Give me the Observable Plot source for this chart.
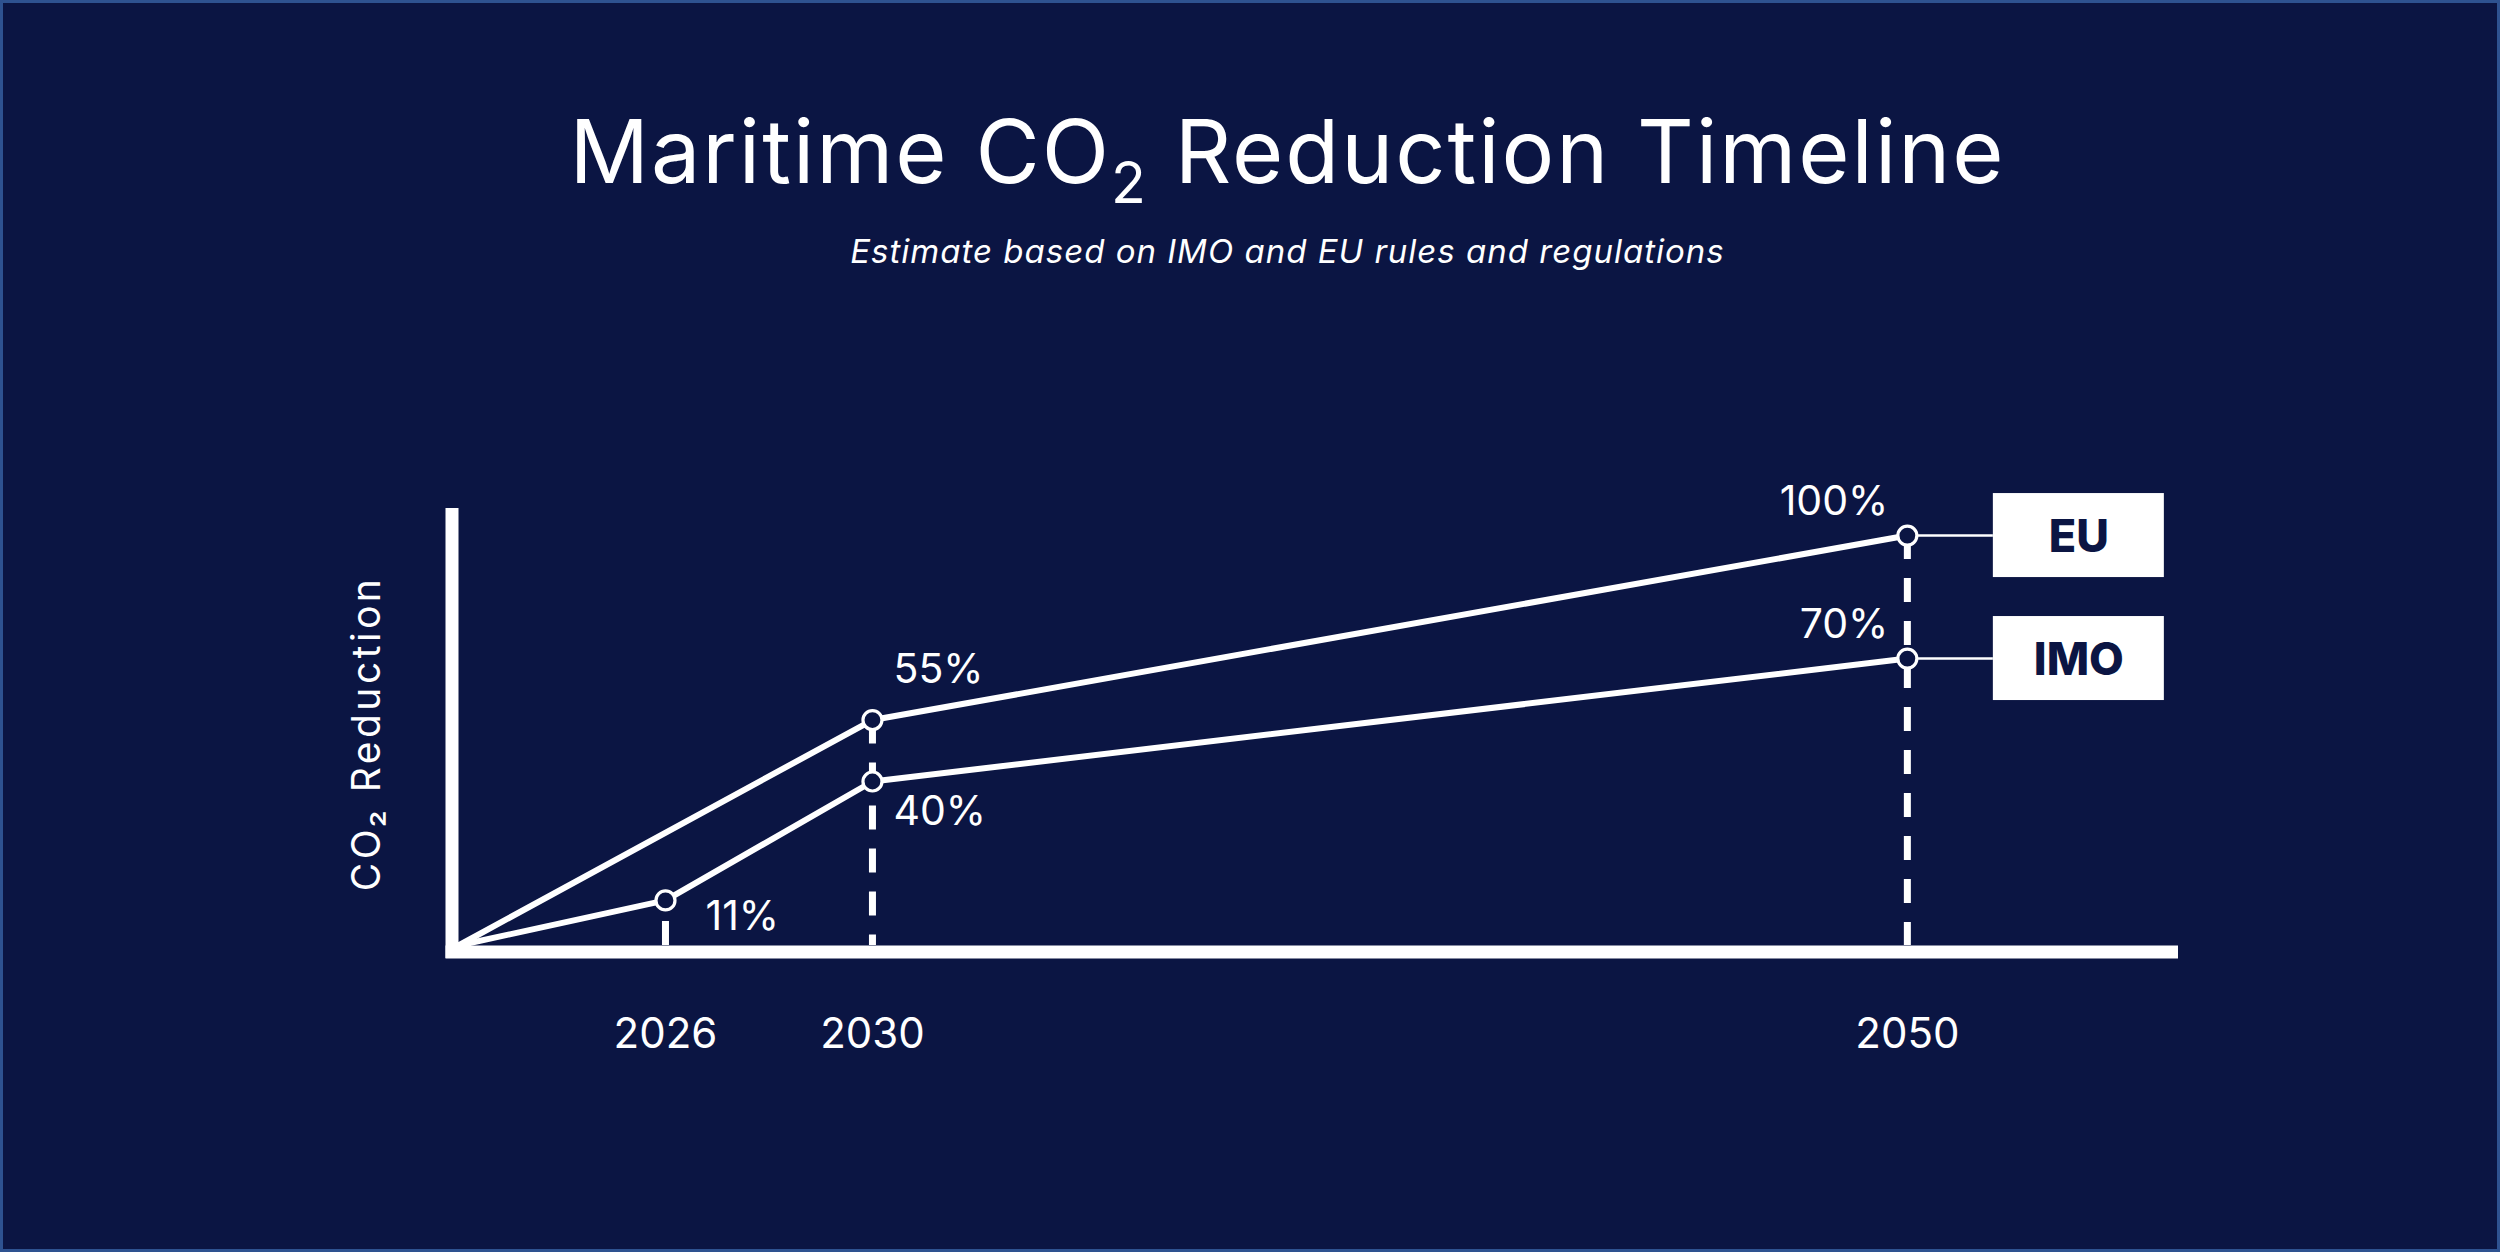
<!DOCTYPE html>
<html>
<head>
<meta charset="utf-8">
<script src="https://cdn.jsdelivr.net/npm/d3@7"></script>
<script src="https://cdn.jsdelivr.net/npm/@observablehq/plot@0.6"></script>
<style>
  html, body { margin: 0; padding: 0; background: #0b1543; }
  #page { position: relative; width: 2500px; height: 1252px; background: #0b1543; overflow: hidden; font-family: Inter, "Open Sans", sans-serif; color: #fff; }
  #frameBorder { position: absolute; inset: 0; border: 3px solid #2e5290; box-sizing: border-box; pointer-events: none; z-index: 5; }
  #title { position: absolute; left: 75px; width: 2425px; top: 107px; margin: 0; font-weight: 400; font-size: 88px; letter-spacing: 2px; line-height: 1; text-align: center; white-space: nowrap; }
  #title sub { font-size: 0.65em; vertical-align: baseline; position: relative; top: 20px; }
  #subtitle { position: absolute; left: 75px; width: 2425px; top: 235px; margin: 0; font-style: italic; font-weight: 400; font-size: 33px; letter-spacing: 1px; line-height: 1; text-align: center; white-space: nowrap; }
  #chart { position: absolute; left: 0; top: 300px; }
  .ylab text { letter-spacing: 3.5px; }
</style>
</head>
<body>
<div id="page">
  <div id="frameBorder"></div>
  <h1 id="title">Maritime CO<sub>2</sub> Reduction Timeline</h1>
  <p id="subtitle">Estimate based on IMO and EU rules and regulations</p>
  <div id="chart"></div>
</div>
<script>
// ---- data ----
const euYears = [2022, 2030, 2050];
const euValues = [0, 55, 100];
const imoYears = [2022, 2026, 2030, 2050];
const imoValues = [0, 11, 40, 70];
const tickYears = [2026, 2030, 2050];
const yAxisLabel = "CO₂ Reduction";

// ---- derived tables ----
const rows = [
  ...euYears.map((year, i) => ({series: "EU", year, value: euValues[i]})),
  ...imoYears.map((year, i) => ({series: "IMO", year, value: imoValues[i]}))
];
const points = rows.filter(d => d.value > 0);
const lastYear = d3.max(rows, d => d.year);
const ends = points.filter(d => d.year === lastYear);
const drops = tickYears.map(year => d3.greatest(points.filter(d => d.year === year), d => d.value));
const firstTick = tickYears[0];

const bg = "#0b1543";
const white = "#ffffff";
const font = "Inter, 'Open Sans', sans-serif";

// label groups
const maxAt = year => d3.max(points.filter(p => p.year === year), p => p.value);
const lblLast = points.filter(d => d.year === lastYear);
const lblMidHigh = points.filter(d => d.year !== lastYear && d.year !== firstTick && d.value === maxAt(d.year));
const lblMidLow = points.filter(d => d.year !== lastYear && d.year !== firstTick && d.value !== maxAt(d.year));
const lblFirst = points.filter(d => d.year === firstTick);
const pct = d => `${d.value}%`;

const chart = Plot.plot({
  width: 2500,
  height: 952,
  marginTop: 208,
  marginBottom: 307,
  marginLeft: 458,
  marginRight: 322,
  style: {background: "transparent", fontFamily: font, color: white},
  x: {type: "linear", domain: [2022, 2055.24], axis: null},
  y: {type: "linear", domain: [0, 106.6], axis: null},
  marks: [
    // axes
    Plot.ruleX([euYears[0]], {stroke: white, strokeWidth: 13, dx: -6.5, insetBottom: -13}),
    Plot.ruleY([0], {stroke: white, strokeWidth: 13, dy: 6.5, insetLeft: -12.5}),
    // dashed drop lines
    Plot.ruleX(drops.filter(d => d.year !== firstTick), {x: "year", y1: "value", y2: () => 0, stroke: white, strokeWidth: 7, strokeDasharray: "24,19"}),
    Plot.ruleX(drops.filter(d => d.year === firstTick), {x: "year", y1: () => 0, y2: "value", stroke: white, strokeWidth: 7, strokeDasharray: "24,19"}),
    // series lines
    Plot.line(rows, {x: "year", y: "value", z: "series", stroke: white, strokeWidth: 6, strokeLinejoin: "round"}),
    // connectors to labels
    Plot.ruleY(ends, {y: "value", x1: "year", x2: "year", insetRight: -86, stroke: white, strokeWidth: 2.5}),
    // points
    Plot.dot(points, {x: "year", y: "value", r: 9.5, fill: bg, stroke: white, strokeWidth: 3.2}),
    // series boxes
    Plot.rect(ends, {x1: "year", x2: "year", y1: "value", y2: "value", insetLeft: -85.5, insetRight: -85.5, insetTop: -42, insetBottom: -42, dx: 171.5, fill: white}),
    Plot.text(ends, {x: "year", y: "value", text: "series", dx: 171.5, dy: 2, fill: bg, fontSize: 45, fontWeight: 800, fontFamily: font, lineAnchor: "middle"}),
    // value labels
    Plot.text(lblLast, {x: "year", y: "value", text: pct, textAnchor: "end", lineAnchor: "bottom", dx: -19, dy: -21, fill: white, fontSize: 41, fontFamily: font}),
    Plot.text(lblMidHigh, {x: "year", y: "value", text: pct, textAnchor: "start", lineAnchor: "bottom", dx: 21, dy: -37, fill: white, fontSize: 41, fontFamily: font}),
    Plot.text(lblMidLow, {x: "year", y: "value", text: pct, textAnchor: "start", lineAnchor: "bottom", dx: 21, dy: 43, fill: white, fontSize: 41, fontFamily: font}),
    Plot.text(lblFirst, {x: "year", y: "value", text: pct, textAnchor: "start", lineAnchor: "bottom", dx: 40, dy: 30, fill: white, fontSize: 41, fontFamily: font}),
    // x tick labels
    Plot.text(tickYears, {x: d => d, text: d => String(d), frameAnchor: "bottom", lineAnchor: "bottom", dy: 102, fill: white, fontSize: 42, fontFamily: font}),
    // y axis label
    Plot.text([yAxisLabel], {text: d => d, frameAnchor: "left", textAnchor: "middle", rotate: -90, dx: -91, dy: 6.5, lineAnchor: "middle", fill: white, fontSize: 39, fontFamily: font, className: "ylab"})
  ]
});
document.getElementById("chart").appendChild(chart);
</script>
</body>
</html>
